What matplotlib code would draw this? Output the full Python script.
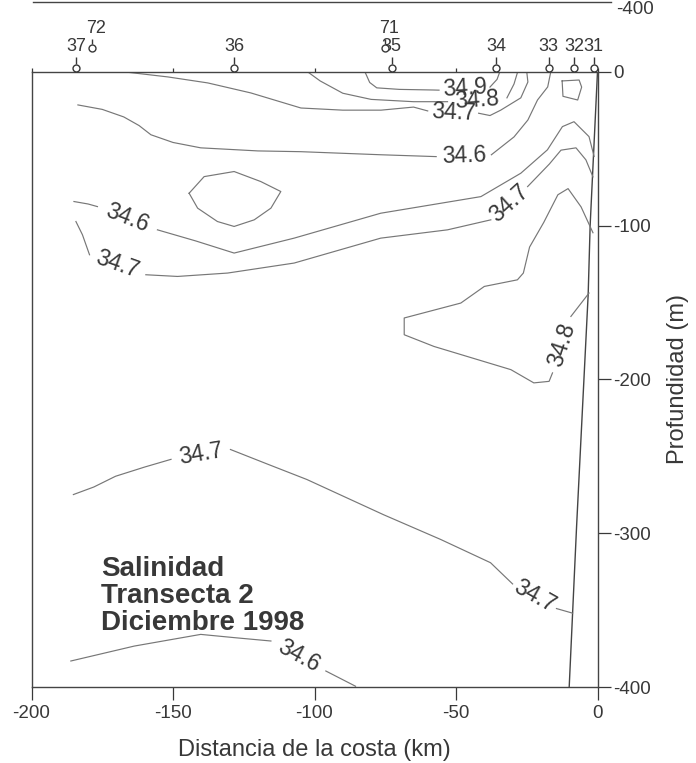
import matplotlib.pyplot as plt
import numpy as np
from matplotlib.lines import Line2D

plt.rcParams['font.family'] = ['Liberation Sans', 'DejaVu Sans']
plt.rcParams['axes.unicode_minus'] = False

INK = '#383838'
ISO = '#777777'
nan = np.nan

# CTD stations on the transect (km from the coast)
station_names = ['37', '36', '35', '34', '33', '32', '31']
station_km = [-184.2, -128.4, -72.7, -35.7, -17.2, -8.3, -1.3]
# stations of the other grid, written one row higher
extra_names = ['72', '71']
extra_km = [-178.6, -75.0]

# sea floor next to the coast
bottom_km = [0.0, -2.6, -3.3, -7.4, -10.0]
bottom_m = [0, 100, 145, 296, 400]

iso_349_km = [-82.2, -80.5, -78, -70, -58, -56, nan, -38, -35.5, -34.5]
iso_349_m = [0, 7, 10.5, 11.5, 11.9, 12, nan, 10, 5, 0]

iso_348_top_km = [-102.5, -98, -90, -80, -65, -53, nan, -32, -29.5, -28.2]
iso_348_top_m = [0, 6, 14, 18, 19.5, 19.5, nan, 17, 8, 0]

iso_347_top_km = [-167.7, -151.8, -137.7, -122.5, -104.8, -90, -76.5, -65, -60,
                  nan, -42, -38, -34.2, -27.1, -24.6, -25]
iso_347_top_m = [0, 3.4, 7.3, 13.8, 23.6, 25, 25, 23, 25.5,
                 nan, 27, 28.5, 25, 17, 6.7, 0]

iso_346_top_km = [-183.6, -175, -167.4, -162, -157.8, -150, -140.2, -120, -104.8,
                  -76.5, -57, nan, -37.5, -29.5, -24.6, -21.2, -17.6, -16.5]
iso_346_top_m = [21.6, 24.5, 29.4, 35, 41, 46, 49.5, 51.5, 52,
                 54, 55.2, nan, 54, 42.4, 31.4, 18.4, 9.9, 0]

# two small unlabelled 34.5 cells
iso_345_off_km = [-144.3, -139, -128.4, -119, -111.9, -115.4, -121.3, -128.4, -134.3,
                  -141.3, -144.3]
iso_345_off_m = [79, 68.2, 64.9, 71.4, 77.9, 88.7, 96.3, 100.6, 97.4, 88.7, 79]

iso_345_coast_km = [-12.5, -6.5, -5.6, -7, -12.2, -12.5]
iso_345_coast_m = [6, 5.4, 10, 18.4, 16, 6]

iso_346_mid_km = [-185, -180, -176.7, nan, -155.5, -142, -128.4, -107.2, -76.6,
                  -41.2, -27.1, -17.7, -12.4, -8.3, -3, -1.2]
iso_346_mid_m = [84.4, 86, 87.7, nan, 102.8, 110, 117.9, 108.2, 92,
                 81.2, 66, 50.8, 35.7, 32.5, 42.2, 55.1]

iso_347_mid_km = [-184.3, -182, -179.5, nan, -159.6, -148.4, -130.7, -107.2, -76.6,
                  -53, -37.7, nan, -24.7, -17, -12.9, -7.6, -4.1, -1.6]
iso_347_mid_m = [97.4, 106, 119, nan, 132, 133.1, 130.9, 124.4, 108.2,
                 102.8, 96.3, nan, 74.7, 60, 51, 49.5, 57.3, 68.4]

iso_348_deep_km = [-1.6, -5.8, -10.4, -14, -19, -24, -26.2, -28.3, -40, -48.3,
                   -68.3, -68.3, -57.8, -30.6, -22.5, -17.1, -15.9, nan, -9.4, -3]
iso_348_deep_m = [104.7, 87.9, 76, 80, 98, 114, 130.9, 135.3, 139.6, 150.4,
                  160.1, 171, 178.6, 193.7, 202.3, 201.3, 195.8, nan, 159.1, 143.9]

iso_347_deep_km = [-185.2, -178, -170.3, -160, -150.7, nan, -129.7, -116.2, -102.7,
                   -75.6, -55.4, -37.8, -30, nan, -14.5, -8.8]
iso_347_deep_m = [274.9, 270, 263, 257, 252, nan, 245.6, 255.4, 265.1,
                  288, 304.1, 319.2, 333, nan, 349, 352]

iso_346_deep_km = [-186.1, -163.7, -140.2, -128.4, -115.4, nan, -96, -85.5]
iso_346_deep_m = [383.1, 373.4, 365.8, 367.9, 370.1, nan, 389.6, 399.5]

isohalines = [
    (iso_349_km, iso_349_m, 34.9),
    (iso_348_top_km, iso_348_top_m, 34.8),
    (iso_347_top_km, iso_347_top_m, 34.7),
    (iso_346_top_km, iso_346_top_m, 34.6),
    (iso_345_off_km, iso_345_off_m, 34.5),
    (iso_345_coast_km, iso_345_coast_m, 34.5),
    (iso_346_mid_km, iso_346_mid_m, 34.6),
    (iso_347_mid_km, iso_347_mid_m, 34.7),
    (iso_348_deep_km, iso_348_deep_m, 34.8),
    (iso_347_deep_km, iso_347_deep_m, 34.7),
    (iso_346_deep_km, iso_346_deep_m, 34.6),
]


def draw_isohaline(ax, km, depth, level):
    x = np.array(km, dtype=float)
    y = -np.array(depth, dtype=float)
    ax.plot(x, y, color=ISO, lw=0.85, zorder=2)
    # a label sits in every gap, turned along the line
    for i in np.where(np.isnan(x))[0]:
        p0 = ax.transData.transform((x[i - 1], y[i - 1]))
        p1 = ax.transData.transform((x[i + 1], y[i + 1]))
        ang = np.degrees(np.arctan2(p1[1] - p0[1], p1[0] - p0[0]))
        ax.text((x[i - 1] + x[i + 1]) / 2, (y[i - 1] + y[i + 1]) / 2, f'{level:.1f}',
                rotation=ang, rotation_mode='anchor', ha='center', va='center',
                fontsize=16.5, color=INK, zorder=3)


fig = plt.figure(figsize=(6.96, 7.63), dpi=100)
ax = fig.add_axes([31.5 / 696, 76 / 763, 566 / 696, 615.3 / 763])
ax.set_xlim(-200, 0)
ax.set_ylim(-400, 0)

for s in ax.spines.values():
    s.set_color('#444444')
    s.set_linewidth(1.0)

ax.set_xticks([-200, -150, -100, -50, 0])
ax.tick_params(axis='x', direction='out', length=9, width=0.9, pad=4,
               labelsize=13.5, colors=INK, top=True, labeltop=False)
for t in ax.xaxis.get_major_ticks():
    t.tick2line.set_markersize(3)
ax.set_yticks([0, -100, -200, -300, -400])
ax.yaxis.tick_right()
ax.tick_params(axis='y', direction='out', length=9, width=0.9, pad=2,
               labelsize=13.5, colors=INK)

ax.set_xlabel('Distancia de la costa (km)', fontsize=17, color=INK, labelpad=12)
ax.yaxis.set_label_position('right')
ax.set_ylabel('Profundidad (m)', fontsize=17, color=INK, labelpad=12)

# sea floor
ax.plot(bottom_km, -np.array(bottom_m), color='#444444', lw=1.0, zorder=2)

for km, depth, level in isohalines:
    draw_isohaline(ax, km, depth, level)

# stations along the surface
ax.plot(station_km, [2.7] * len(station_km), 'o', ms=5, mfc='white', mec=INK,
        mew=1.0, clip_on=False, zorder=4)
ax.vlines(station_km, 5.3, 9.5, color=INK, lw=1.0, clip_on=False)
for name, km in zip(station_names, station_km):
    ax.text(km, 16.4, name, ha='center', va='center', fontsize=13, color=INK,
            clip_on=False)
ax.plot(extra_km, [15.5] * len(extra_km), 'o', ms=5, mfc='white', mec=INK,
        mew=1.0, clip_on=False, zorder=4)
ax.vlines(extra_km, 18, 21.5, color=INK, lw=1.0, clip_on=False)
for name, km in zip(extra_names, extra_km):
    ax.text(km + 1.5, 28, name, ha='center', va='center', fontsize=13, color=INK,
            clip_on=False)

ax.text(-175.5, -341, 'Salinidad\nTransecta 2\nDiciembre 1998', ha='left',
        va='center', fontsize=20, fontweight='bold', color=INK, linespacing=1.05)

# bottom edge of the panel above, cut by the scan
fig.add_artist(Line2D([33 / 696, 611 / 696], [1 - 1.5 / 763] * 2, color='#444444',
                      lw=1.0))
fig.text(616 / 696, 1 - 0.5 / 763, '-400', fontsize=13.5, color=INK, va='top')

fig.savefig('out.png', dpi=100)
